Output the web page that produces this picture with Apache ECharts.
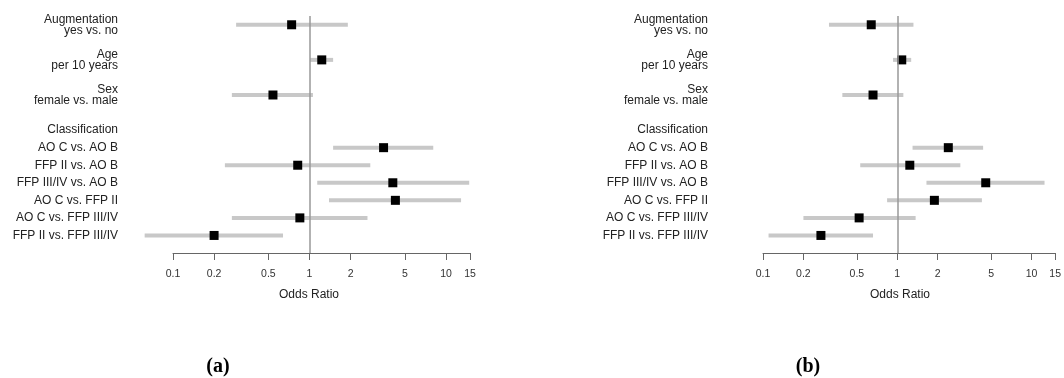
<!DOCTYPE html>
<html>
<head>
<meta charset="utf-8">
<script src="https://cdn.jsdelivr.net/npm/echarts@6/dist/echarts.min.js"></script>
<style>
  html, body { margin: 0; padding: 0; background: #fff; }
  #chart { width: 1064px; height: 378px; }
</style>
</head>
<body>
<div id="chart"></div>
<script>
// rows from top to bottom; '' rows are spacers
const rowLabels = [
    'Augmentation\nyes vs. no', '', 'Age\nper 10 years', '', 'Sex\nfemale vs. male', '',
    'Classification', 'AO C vs. AO B', 'FFP II vs. AO B', 'FFP III/IV vs. AO B',
    'AO C vs. FFP II', 'AO C vs. FFP III/IV', 'FFP II vs. FFP III/IV'
];

// panel (a)
const orA = [0.74, null, 1.23, null, 0.54, null, null, 3.49, 0.82, 4.08, 4.26, 0.85, 0.20];
const loA = [0.29, null, 1.01, null, 0.27, null, null, 1.49, 0.24, 1.14, 1.39, 0.27, 0.062];
const hiA = [1.91, null, 1.49, null, 1.06, null, null, 8.07, 2.79, 14.8, 12.9, 2.66, 0.64];

// panel (b)
const orB = [0.64, null, 1.08, null, 0.66, null, null, 2.40, 1.24, 4.56, 1.89, 0.52, 0.27];
const loB = [0.31, null, 0.93, null, 0.39, null, null, 1.30, 0.53, 1.65, 0.84, 0.20, 0.11];
const hiB = [1.32, null, 1.27, null, 1.11, null, null, 4.36, 2.95, 12.5, 4.27, 1.37, 0.66];

const ticks = [0.1, 0.2, 0.5, 1, 2, 5, 10, 15];

const FONT = 'Liberation Sans';
const nRows = rowLabels.length;
const rowY = i => nRows - 1 - i;
const log = Math.log10;

function ciData(lo, hi) {
    const out = [];
    lo.forEach((v, i) => {
        if (v != null) out.push([log(v), log(hi[i]), rowY(i)]);
    });
    return out;
}

function pointData(or) {
    const out = [];
    or.forEach((v, i) => {
        if (v != null) out.push([log(v), rowY(i)]);
    });
    return out;
}

const labelRows = [];
rowLabels.forEach((l, i) => { if (l) labelRows.push(rowY(i)); });

function makeXAxis(idx) {
    return {
        type: 'value',
        gridIndex: idx,
        min: log(0.1),
        max: log(15),
        axisLine: {show: true, onZero: false, lineStyle: {color: '#666', width: 1}},
        axisTick: {show: true, inside: false, length: 7, customValues: ticks.map(log), lineStyle: {color: '#666'}},
        axisLabel: {
            customValues: ticks.map(log),
            margin: 16,
            fontSize: 10.5,
            fontFamily: FONT,
            color: '#333',
            formatter: v => String(+Math.pow(10, v).toPrecision(2))
        },
        splitLine: {show: false}
    };
}

function makeYAxis(idx) {
    return {
        type: 'value',
        gridIndex: idx,
        min: -1,
        max: 12.5,
        axisLine: {show: false},
        axisTick: {show: false},
        splitLine: {show: false},
        axisLabel: {
            customValues: labelRows,
            formatter: v => rowLabels[nRows - 1 - v],
            margin: 55,
            fontSize: 12,
            lineHeight: 11,
            fontFamily: FONT,
            color: '#222'
        }
    };
}

function ciSeries(idx, lo, hi) {
    return {
        type: 'custom',
        xAxisIndex: idx,
        yAxisIndex: idx,
        clip: false,
        silent: true,
        data: ciData(lo, hi),
        renderItem: function (params, api) {
            const a = api.coord([api.value(0), api.value(2)]);
            const b = api.coord([api.value(1), api.value(2)]);
            return {
                type: 'line',
                shape: {x1: a[0], y1: a[1], x2: b[0], y2: b[1]},
                style: {stroke: '#c8c8c8', lineWidth: 4}
            };
        }
    };
}

function pointSeries(idx, or) {
    return {
        type: 'scatter',
        xAxisIndex: idx,
        yAxisIndex: idx,
        symbol: 'rect',
        symbolSize: 9,
        itemStyle: {color: '#000', opacity: 1},
        data: pointData(or),
        z: 4,
        markLine: {
            silent: true,
            symbol: 'none',
            label: {show: false},
            lineStyle: {color: '#999', width: 1.5, type: 'solid'},
            data: [{xAxis: 0}]
        }
    };
}

const chart = echarts.init(document.getElementById('chart'), null, {renderer: 'canvas'});
chart.setOption({
    animation: false,
    backgroundColor: '#fff',
    grid: [
        {left: 173, top: 16, width: 297, height: 237},
        {left: 763, top: 16, width: 297, height: 237}
    ],
    xAxis: [makeXAxis(0), makeXAxis(1)],
    yAxis: [makeYAxis(0), makeYAxis(1)],
    series: [
        ciSeries(0, loA, hiA),
        pointSeries(0, orA),
        ciSeries(1, loB, hiB),
        pointSeries(1, orB)
    ],
    graphic: [
        {type: 'text', x: 309, y: 295, style: {text: 'Odds Ratio', font: '12px "Liberation Sans"', fill: '#222', align: 'center', verticalAlign: 'middle'}},
        {type: 'text', x: 900, y: 295, style: {text: 'Odds Ratio', font: '12px "Liberation Sans"', fill: '#222', align: 'center', verticalAlign: 'middle'}},
        {type: 'text', x: 218, y: 367, style: {text: '(a)', font: 'bold 20px "Liberation Serif"', fill: '#000', align: 'center', verticalAlign: 'middle'}},
        {type: 'text', x: 808, y: 367, style: {text: '(b)', font: 'bold 20px "Liberation Serif"', fill: '#000', align: 'center', verticalAlign: 'middle'}}
    ]
});
</script>
</body>
</html>
